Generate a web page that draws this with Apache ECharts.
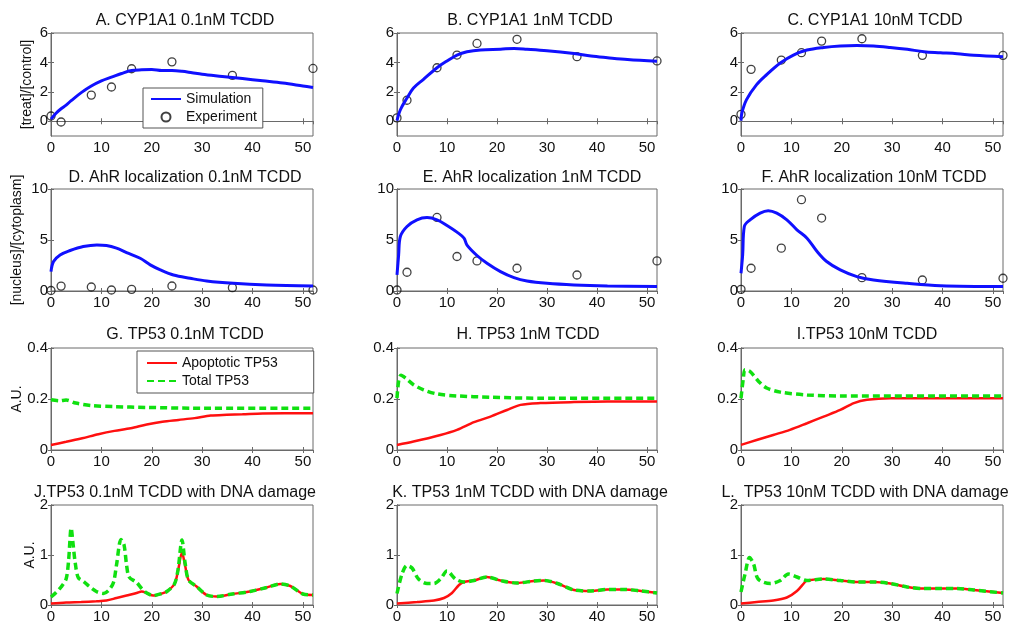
<!DOCTYPE html>
<html>
<head>
<meta charset="utf-8">
<title>TCDD response model</title>
<script src="https://cdn.jsdelivr.net/npm/echarts@6/dist/echarts.min.js"></script>
<style>
html, body { margin: 0; padding: 0; background: #fff; }
#chart { width: 1014px; height: 624px; }
</style>
</head>
<body>
<div id="chart"></div>
<script>
// sampling times of the experiments (h)
var expTime = [0, 2, 8, 12, 16, 24, 36, 52];

// CYP1A1 [treat]/[control]
var cypExp01 = [0.36, -0.05, 1.78, 2.33, 3.57, 4.04, 3.12, 3.59];
var cypExp1 = [0.23, 1.43, 3.64, 4.5, 5.29, 5.57, 4.39, 4.1];
var cypExp10 = [0.47, 3.53, 4.16, 4.66, 5.45, 5.61, 4.48, 4.48];
var cypSim01 = [[0, 0.15], [1, 0.55], [2, 0.85], [3, 1.1], [4, 1.4], [6, 1.95], [8, 2.4], [10, 2.75], [12, 3.0], [14, 3.25],
  [16, 3.45], [18, 3.5], [20, 3.52], [22, 3.45], [24, 3.45], [26, 3.4], [28, 3.3], [30, 3.2], [34, 3.05], [38, 2.9],
  [42, 2.75], [46, 2.6], [50, 2.4], [52, 2.3]];
var cypSim1 = [[0, 0.05], [0.7, 0.8], [2, 1.58], [3.3, 2.26], [5.3, 2.85], [8, 3.64], [10, 4.1], [12, 4.5], [14, 4.72],
  [16.7, 4.85], [20.7, 4.9], [23.4, 4.95], [26, 4.9], [30, 4.8], [35.4, 4.6], [38.8, 4.43], [42.1, 4.32], [46.1, 4.2], [52, 4.08]];
var cypSim10 = [[0, 0.05], [0.2, 0.6], [1.1, 1.47], [3.1, 2.49], [5.1, 3.17], [7.8, 3.96], [10.4, 4.5], [13.1, 4.84],
  [16.4, 5.02], [19.7, 5.12], [23, 5.15], [26.3, 5.12], [29.6, 5.02], [33, 4.89], [36.3, 4.73], [39.6, 4.66], [42.9, 4.59],
  [46.2, 4.48], [52, 4.39]];

// AhR [nucleus]/[cytoplasm]
var ahrExp01 = [0.05, 0.48, 0.39, 0.1, 0.16, 0.49, 0.33, 0.1];
var ahrExp1 = [0.1, 1.84, 7.21, 3.38, 2.95, 2.23, 1.57, 2.95];
var ahrExp10 = [0.16, 2.23, 4.2, 8.95, 7.15, 1.31, 1.08, 1.25];
var ahrSim01 = [[0, 1.9], [0.5, 2.89], [1.8, 3.54], [3.8, 3.97], [6.4, 4.36], [9.1, 4.52], [11, 4.46], [13, 4.2], [15, 3.77],
  [17.7, 3.21], [19.7, 2.56], [21.7, 2.07], [24.3, 1.57], [27.6, 1.25], [30.9, 0.98], [36.2, 0.75], [42.8, 0.59], [52, 0.49]];
var ahrSim1 = [[0, 1.57], [0.33, 3.54], [0.67, 5.34], [2, 6.33], [4, 6.98], [6, 7.2], [8, 6.98], [10, 6.43], [12, 5.77],
  [13.4, 5.18], [14, 4.5], [16, 3.48], [18, 2.72], [20.7, 1.9], [23.4, 1.31], [26, 0.98], [30, 0.75], [35.4, 0.59],
  [42.1, 0.49], [52, 0.43]];
var ahrSim10 = [[0, 1.74], [0.33, 3.54], [0.66, 6.33], [1.8, 6.98], [3.8, 7.64], [5.4, 7.87], [7.1, 7.64], [9.1, 6.98],
  [11.1, 6.0], [13.1, 5.18], [15.1, 3.87], [17, 2.89], [19.7, 2.07], [23, 1.41], [26.3, 1.08], [33, 0.75], [39.6, 0.52], [52, 0.43]];

// TP53 (A.U.)
var apo01 = [[0, 0.02], [3, 0.032], [6.2, 0.046], [9.4, 0.062], [12.6, 0.075], [15.8, 0.085], [19, 0.1], [22.1, 0.111],
  [25.3, 0.118], [28.5, 0.125], [31.7, 0.135], [34.9, 0.138], [38, 0.14], [42, 0.143], [52, 0.144]];
var tot01 = [[0, 0.197], [1.7, 0.193], [3, 0.196], [4.9, 0.184], [8.1, 0.174], [12.6, 0.17], [19, 0.167], [28, 0.164], [52, 0.164]];
var apo1 = [[0, 0.02], [3.3, 0.033], [8.7, 0.059], [12, 0.079], [15.4, 0.109], [18.7, 0.131], [22, 0.157], [24.7, 0.177],
  [28.7, 0.184], [35.4, 0.188], [42.1, 0.19], [52, 0.19]];
var tot1 = [[0, 0.203], [0.33, 0.27], [0.8, 0.293], [1.7, 0.282], [3.3, 0.256], [5.3, 0.236], [8, 0.22], [12, 0.212],
  [18.7, 0.207], [28.7, 0.203], [52, 0.203]];
var apo10 = [[0, 0.02], [3.1, 0.039], [6.4, 0.059], [9.7, 0.079], [13.1, 0.105], [16.4, 0.131], [19.7, 0.157], [22.4, 0.184],
  [25, 0.197], [29.6, 0.203], [52, 0.203]];
var tot10 = [[0, 0.203], [0.47, 0.282], [0.8, 0.315], [1.8, 0.308], [3.5, 0.269], [5.1, 0.243], [7.8, 0.227], [13.1, 0.216],
  [19.7, 0.212], [52, 0.212]];

// TP53 with DNA damage (A.U.)
var apoD01 = [[0, 0.03], [3, 0.05], [6, 0.06], [9, 0.075], [11, 0.09], [13, 0.14], [15, 0.19], [17, 0.24], [18, 0.27],
  [19, 0.24], [20.3, 0.19], [22, 0.23], [23, 0.27], [24.5, 0.42], [25.2, 0.68], [26, 1.05], [26.6, 0.8], [27.3, 0.5],
  [28.9, 0.37], [30.9, 0.2], [32.9, 0.17], [36, 0.22], [39.5, 0.27], [42.8, 0.35], [45.5, 0.42], [47.5, 0.38], [50, 0.22], [52, 0.2]];
var totD01 = [[0, 0.16], [1, 0.25], [2, 0.36], [3, 0.52], [3.5, 0.9], [4, 1.54], [4.4, 1.2], [4.8, 0.85], [5.4, 0.55],
  [6.5, 0.47], [7.5, 0.38], [9, 0.27], [10.4, 0.23], [11.5, 0.3], [12.4, 0.45], [13, 0.8], [13.9, 1.31], [14.5, 1.2],
  [15, 0.8], [15.5, 0.56], [17, 0.45], [18, 0.33], [19, 0.24], [20.3, 0.19], [22, 0.23], [23, 0.27], [24.5, 0.42],
  [25.2, 0.7], [26, 1.3], [26.6, 0.85], [27.3, 0.5], [28.9, 0.37], [30.9, 0.2], [32.9, 0.17], [36, 0.22], [39.5, 0.27],
  [42.8, 0.35], [45.5, 0.42], [47.5, 0.38], [50, 0.22], [52, 0.2]];
var apoD1 = [[0, 0.03], [4, 0.06], [7.4, 0.09], [9.4, 0.14], [11, 0.24], [12.4, 0.4], [13.4, 0.46], [15.4, 0.49], [18, 0.56],
  [20.7, 0.49], [24, 0.44], [27.4, 0.48], [29.4, 0.49], [32.1, 0.43], [35.4, 0.3], [38.8, 0.28], [42.1, 0.31], [45.5, 0.31],
  [48.8, 0.28], [52, 0.24]];
var totD1 = [[0, 0.23], [1, 0.62], [2, 0.79], [3, 0.74], [4.3, 0.52], [6, 0.43], [7.4, 0.43], [8.7, 0.52], [10, 0.68],
  [11.7, 0.52], [13.4, 0.46], [15.4, 0.49], [18, 0.56], [20.7, 0.49], [24, 0.44], [27.4, 0.48], [29.4, 0.49], [32.1, 0.43],
  [35.4, 0.3], [38.8, 0.28], [42.1, 0.31], [45.5, 0.31], [48.8, 0.28], [52, 0.24]];
var apoD10 = [[0, 0.03], [3.1, 0.06], [6.4, 0.09], [9.1, 0.15], [11.1, 0.28], [12.7, 0.46], [13.1, 0.49], [16.4, 0.52],
  [19.7, 0.49], [23, 0.46], [26.3, 0.46], [29.6, 0.43], [33, 0.36], [36.3, 0.33], [39.6, 0.33], [42.9, 0.33], [46.2, 0.3], [52, 0.24]];
var totD10 = [[0, 0.26], [0.8, 0.62], [1.7, 0.95], [2.5, 0.82], [3.4, 0.52], [5.8, 0.43], [7.8, 0.49], [9.4, 0.62],
  [11.1, 0.56], [13.1, 0.49], [16.4, 0.52], [19.7, 0.49], [23, 0.46], [26.3, 0.46], [29.6, 0.43], [33, 0.36], [36.3, 0.33],
  [39.6, 0.33], [42.9, 0.33], [46.2, 0.3], [52, 0.24]];

var titles = [
  'A. CYP1A1 0.1nM TCDD', 'B. CYP1A1 1nM TCDD', 'C. CYP1A1 10nM TCDD',
  'D. AhR localization 0.1nM TCDD', 'E. AhR localization 1nM TCDD', 'F. AhR localization 10nM TCDD',
  'G. TP53 0.1nM TCDD', 'H. TP53 1nM TCDD', 'I.TP53 10nM TCDD',
  'J.TP53 0.1nM TCDD with DNA damage', 'K. TP53 1nM TCDD with DNA damage', 'L.  TP53 10nM TCDD with DNA damage'
];
var yNames = ['[treat]/[control]', '[nucleus]/[cytoplasm]', 'A.U.', 'A.U.'];

// layout
var colLeft = [51, 397, 741];
var colWidth = [262, 260, 262];
var rowTop = [33, 189, 348, 505];
var rowHeight = [103, 102, 102, 102];
var titleTop = [8, 165, 322, 480];
var titleCenter = [180, 525, 870, 180, 527, 869, 180, 523, 862, 170, 525, 860];
var nameGap = [17, 27, 27, 14];
var yRange = [
  { min: -1, max: 6, ticks: [0, 2, 4, 6] },
  { min: 0, max: 10, ticks: [0, 5, 10] },
  { min: 0, max: 0.4, ticks: [0, 0.2, 0.4] },
  { min: 0, max: 2, ticks: [0, 1, 2] }
];

var font = 'Liberation Sans, Arial, sans-serif';
var axisColor = '#6a6a6a';
var blue = '#1010ff';
var red = '#ff1010';
var green = '#10e010';

var grids = [], xAxes = [], yAxes = [], titleList = [], series = [];

for (var i = 0; i < 12; i++) {
  var r = Math.floor(i / 3), c = i % 3;
  grids.push({
    left: colLeft[c], top: rowTop[r], width: colWidth[c], height: rowHeight[r],
    show: true, borderColor: axisColor, borderWidth: 1, backgroundColor: '#fff'
  });
  titleList.push({
    text: titles[i], left: titleCenter[i], top: titleTop[r], textAlign: 'center',
    textStyle: { fontFamily: font, fontSize: 16, fontWeight: 'normal', color: '#111' }
  });
  // bottom + top (mirror) x axes
  xAxes.push({
    gridIndex: i, type: 'value', min: 0, max: 52, interval: 10, position: 'bottom',
    axisLine: { show: true, lineStyle: { color: axisColor } },
    axisTick: { show: true, inside: true, length: 3, lineStyle: { color: axisColor } },
    axisLabel: { showMaxLabel: false, margin: 4, fontFamily: font, fontSize: 15, color: '#111' },
    splitLine: { show: false }
  });
  xAxes.push({
    gridIndex: i, type: 'value', min: 0, max: 52, interval: 10, position: 'top',
    axisLine: { show: true, lineStyle: { color: axisColor } },
    axisTick: { show: true, inside: true, length: 3, lineStyle: { color: axisColor } },
    axisLabel: { show: false }, splitLine: { show: false }
  });
  var yr = yRange[r];
  yAxes.push({
    gridIndex: i, type: 'value', min: yr.min, max: yr.max, position: 'left',
    name: c === 0 ? yNames[r] : '', nameLocation: 'middle', nameGap: nameGap[r], nameRotate: 90,
    nameMoveOverlap: false,
    nameTextStyle: { fontFamily: font, fontSize: 14, color: '#111' },
    axisLine: { show: true, lineStyle: { color: axisColor } },
    axisTick: { show: true, inside: true, length: 3, customValues: yr.ticks, lineStyle: { color: axisColor } },
    axisLabel: { customValues: yr.ticks, margin: 3, fontFamily: font, fontSize: 15, color: '#111' },
    splitLine: { show: false }
  });
  yAxes.push({
    gridIndex: i, type: 'value', min: yr.min, max: yr.max, position: 'right',
    axisLine: { show: true, lineStyle: { color: axisColor } },
    axisTick: { show: true, inside: true, length: 3, customValues: yr.ticks, lineStyle: { color: axisColor } },
    axisLabel: { show: false }, splitLine: { show: false }
  });
}

function toPoints(values) {
  return expTime.map(function (t, k) { return [t, values[k]]; });
}

var simData = [cypSim01, cypSim1, cypSim10, ahrSim01, ahrSim1, ahrSim10];
var expData = [cypExp01, cypExp1, cypExp10, ahrExp01, ahrExp1, ahrExp10];
var apoData = [apo01, apo1, apo10, apoD01, apoD1, apoD10];
var totData = [tot01, tot1, tot10, totD01, totD1, totD10];

for (var p = 0; p < 6; p++) {
  series.push({
    name: 'Simulation', type: 'line', xAxisIndex: 2 * p, yAxisIndex: 2 * p,
    data: simData[p], symbol: 'none', showSymbol: false, smooth: 0.35, clip: false,
    lineStyle: { color: blue, width: 3 }, itemStyle: { color: blue }
  });
  series.push({
    name: 'Experiment', type: 'scatter', xAxisIndex: 2 * p, yAxisIndex: 2 * p,
    data: toPoints(expData[p]), symbol: 'circle', symbolSize: 8, clip: false,
    itemStyle: { color: 'rgba(255,255,255,0)', borderColor: '#111', borderWidth: 1.3 }
  });
}
for (var q = 0; q < 6; q++) {
  var gi = q + 6;
  series.push({
    name: 'Apoptotic TP53', type: 'line', xAxisIndex: 2 * gi, yAxisIndex: 2 * gi,
    data: apoData[q], symbol: 'none', showSymbol: false, smooth: 0.3, clip: false,
    lineStyle: { color: red, width: 2.5 }, itemStyle: { color: red }
  });
  series.push({
    name: 'Total TP53', type: 'line', xAxisIndex: 2 * gi, yAxisIndex: 2 * gi,
    data: totData[q], symbol: 'none', showSymbol: false, smooth: 0.3, clip: false,
    lineStyle: { color: green, width: 3.5, type: [7, 4] }, itemStyle: { color: green }
  });
}

var legendBox = {
  orient: 'vertical', itemWidth: 30, itemHeight: 9, itemGap: 4, selectedMode: false,
  borderColor: '#555', borderWidth: 1, backgroundColor: '#fff',
  textStyle: { fontFamily: font, fontSize: 14, color: '#111' }
};
// line-only legend keys (no marker in the middle)
var lineOnly = { opacity: 0 };

var chart = echarts.init(document.getElementById('chart'), null, { renderer: 'canvas' });
chart.setOption({
  animation: false,
  backgroundColor: '#fff',
  title: titleList,
  grid: grids,
  xAxis: xAxes,
  yAxis: yAxes,
  legend: [
    Object.assign({}, legendBox, {
      left: 143, top: 88, padding: [4, 6, 4, 7],
      data: [{ name: 'Simulation', itemStyle: lineOnly }, 'Experiment']
    }),
    Object.assign({}, legendBox, {
      left: 137, top: 351, padding: [5, 36, 5, 9],
      data: [{ name: 'Apoptotic TP53', itemStyle: lineOnly }, { name: 'Total TP53', itemStyle: lineOnly }]
    })
  ],
  series: series
});
</script>
</body>
</html>
